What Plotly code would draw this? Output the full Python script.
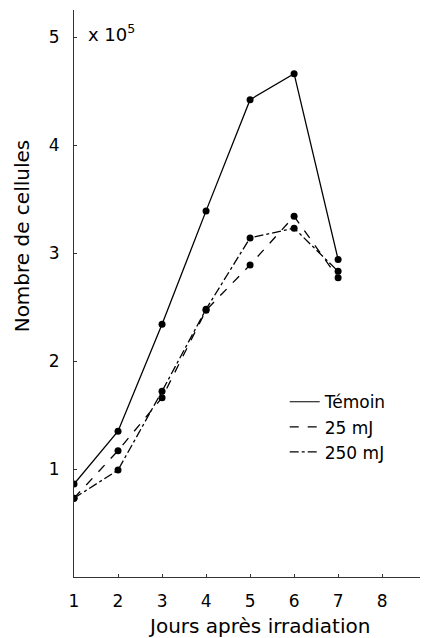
import plotly.graph_objects as go

days = [1, 2, 3, 4, 5, 6, 7]
temoin = [0.86, 1.35, 2.34, 3.39, 4.42, 4.66, 2.94]
mj25 = [0.73, 1.17, 1.66, 2.47, 2.89, 3.34, 2.77]
mj250 = [0.73, 0.99, 1.72, 2.48, 3.14, 3.23, 2.83]

series = [
    ("Témoin", temoin, "solid"),
    ("25 mJ", mj25, "dash"),
    ("250 mJ", mj250, "dashdot"),
]

x_ticks = [1, 2, 3, 4, 5, 6, 7, 8]
y_ticks = [1, 2, 3, 4, 5]

FONT = "DejaVu Sans"

fig = go.Figure()
for name, vals, dash in series:
    fig.add_trace(go.Scatter(
        x=days, y=vals, mode="lines+markers", name=name, showlegend=False,
        line=dict(color="black", width=1.3, dash=dash),
        marker=dict(color="black", size=7, symbol="circle"),
    ))
    fig.add_trace(go.Scatter(
        x=[None], y=[None], mode="lines", name=name, showlegend=True,
        line=dict(color="black", width=1.2, dash=dash),
    ))

# page body adds an 8px offset; figure sized to fit the 434x638 window
fig.update_layout(
    width=426, height=630,
    margin=dict(l=66, r=14, t=2, b=61, autoexpand=False),
    paper_bgcolor="white", plot_bgcolor="white",
    font=dict(family=FONT, color="black", size=17),
    legend=dict(
        x=0.609, y=0.340, xanchor="left", yanchor="top",
        font=dict(size=17, family=FONT),
        itemwidth=30, tracegroupgap=0,
        bgcolor="rgba(0,0,0,0)",
    ),
    xaxis=dict(
        range=[1, 8.86], tickvals=x_ticks, ticktext=[str(v) for v in x_ticks],
        showgrid=False, zeroline=False, showline=True, linecolor="#333", linewidth=1.2,
        ticks="inside", ticklen=3, tickcolor="#333",
        ticklabelstandoff=8, automargin=False,
    ),
    yaxis=dict(
        range=[0, 5.25], tickvals=y_ticks, ticktext=[str(v) for v in y_ticks],
        showgrid=False, zeroline=False, showline=True, linecolor="#333", linewidth=1.2,
        ticks="inside", ticklen=3, tickcolor="#333",
        ticklabelstandoff=10, automargin=False,
    ),
)

fig.add_annotation(
    xref="paper", yref="paper", x=-0.150, y=0.601, xanchor="center", yanchor="middle",
    text="Nombre de cellules", textangle=-90, showarrow=False,
    font=dict(size=20, family=FONT),
)
fig.add_annotation(
    xref="paper", yref="paper", x=0.535, y=-0.086, xanchor="center", yanchor="middle",
    text="Jours après irradiation", showarrow=False,
    font=dict(size=20, family=FONT),
)
fig.add_annotation(
    xref="paper", yref="paper", x=0.035, y=0.959, xanchor="left", yanchor="middle",
    text="x 10<sup>5</sup>", showarrow=False, font=dict(size=18, family=FONT),
)

fig.write_html("out.html")
